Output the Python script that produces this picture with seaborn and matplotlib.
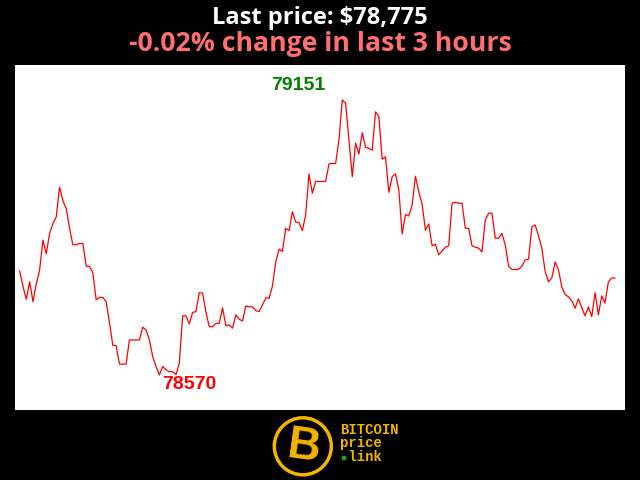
import numpy as np
import pandas as pd
import matplotlib
matplotlib.use("Agg")
import matplotlib.pyplot as plt
from matplotlib.patches import Circle, Rectangle
import seaborn as sns

# price samples, one per minute over the last 3 hours
minutes = list(range(180))
prices = [
    78790, 78757, 78730, 78767, 78725, 78762, 78792, 78855, 78826, 78869,
    78890, 78904, 78967, 78938, 78922, 78880, 78845, 78845, 78848, 78848,
    78800, 78799, 78786, 78729, 78734, 78734, 78725, 78681, 78633, 78632,
    78593, 78593, 78593, 78644, 78644, 78644, 78644, 78671, 78665, 78644,
    78609, 78588, 78570, 78588, 78581, 78577, 78577, 78571, 78595, 78695,
    78695, 78678, 78702, 78704, 78744, 78743, 78703, 78672, 78672, 78679,
    78679, 78712, 78674, 78676, 78669, 78697, 78688, 78684, 78716, 78714,
    78714, 78706, 78704, 78718, 78733, 78732, 78758, 78809, 78836, 78831,
    78880, 78875, 78915, 78893, 78892, 78875, 78908, 78995, 78954, 78979,
    78979, 78979, 78979, 79016, 79017, 79017, 79067, 79151, 79144, 79067,
    78989, 79060, 79037, 79082, 79051, 79049, 79045, 79126, 79116, 79026,
    79031, 78956, 78989, 78995, 78961, 78868, 78909, 78906, 78929, 78990,
    78957, 78931, 78876, 78889, 78843, 78846, 78824, 78832, 78840, 78843,
    78933, 78935, 78933, 78933, 78880, 78880, 78843, 78840, 78838, 78830,
    78897, 78912, 78912, 78859, 78859, 78869, 78845, 78800, 78793, 78793,
    78793, 78800, 78813, 78815, 78883, 78887, 78864, 78838, 78788, 78767,
    78775, 78809, 78792, 78756, 78740, 78735, 78727, 78711, 78731, 78712,
    78695, 78714, 78693, 78744, 78697, 78737, 78722, 78767, 78775, 78775,
]
title_text = "Last price: $78,775"
subtitle_text = "-0.02% change in last 3 hours"

df = pd.DataFrame({"minute": minutes, "price": prices})

sns.set_style("white")
plt.rcParams["font.family"] = ["Open Sans", "DejaVu Sans"]

fig = plt.figure(figsize=(6.4, 4.8), dpi=100, facecolor="black")
ax = fig.add_axes([15 / 640, 70 / 480, 610 / 640, 345 / 480])
ax.set_facecolor("white")

sns.lineplot(data=df, x="minute", y="price", ax=ax, color="red", linewidth=0.9)

ax.set_xlim(-1.4, 182.0)
ax.set_ylim(78496, 79225)
ax.set_xticks([])
ax.set_yticks([])
ax.set_xlabel("")
ax.set_ylabel("")
for s in ax.spines.values():
    s.set_visible(False)

# max / min labels
i_max = int(np.argmax(prices))
i_min = int(np.argmin(prices))
ax.annotate(str(prices[i_max]), (minutes[i_max], prices[i_max]),
            xytext=(-44, 15), textcoords="offset pixels",
            ha="center", va="center", color="green", fontsize=14,
            fontweight="bold", family="Liberation Sans")
ax.annotate(str(prices[i_min]), (minutes[i_min], prices[i_min]),
            xytext=(30, -10), textcoords="offset pixels",
            ha="center", va="center", color="red", fontsize=14,
            fontweight="bold", family="Liberation Sans")

# titles
fig.text(0.5, 1 - 18 / 480, title_text, ha="center", va="center",
         color="white", fontsize=17, fontweight="bold")
fig.text(0.5, 1 - 44 / 480, subtitle_text, ha="center", va="center",
         color="#ff6f6f", fontsize=19.2, fontweight="bold")

# logo
lax = fig.add_axes([265 / 640, 0, 150 / 640, 70 / 480])
lax.set_xlim(265, 415)
lax.set_ylim(480, 410)
lax.axis("off")
gold = "#f4b400"
lax.add_patch(Circle((302.8, 446.3), 28.5, facecolor="black", edgecolor=gold, linewidth=2.5))
lax.text(304, 447, "B", ha="center", va="center", color=gold, fontsize=33,
         fontweight="heavy", family="Liberation Sans", rotation=-8)
for ty, word in [(430, "BITCOIN"), (443.5, "price"), (457, " link")]:
    lax.text(340, ty, word, ha="left", va="center", color=gold, fontsize=10,
             fontweight="bold", family="Liberation Mono")
lax.add_patch(Rectangle((342, 455.5), 3, 3, color="#1fa31f"))

fig.savefig("out.png", dpi=100, facecolor="black")
